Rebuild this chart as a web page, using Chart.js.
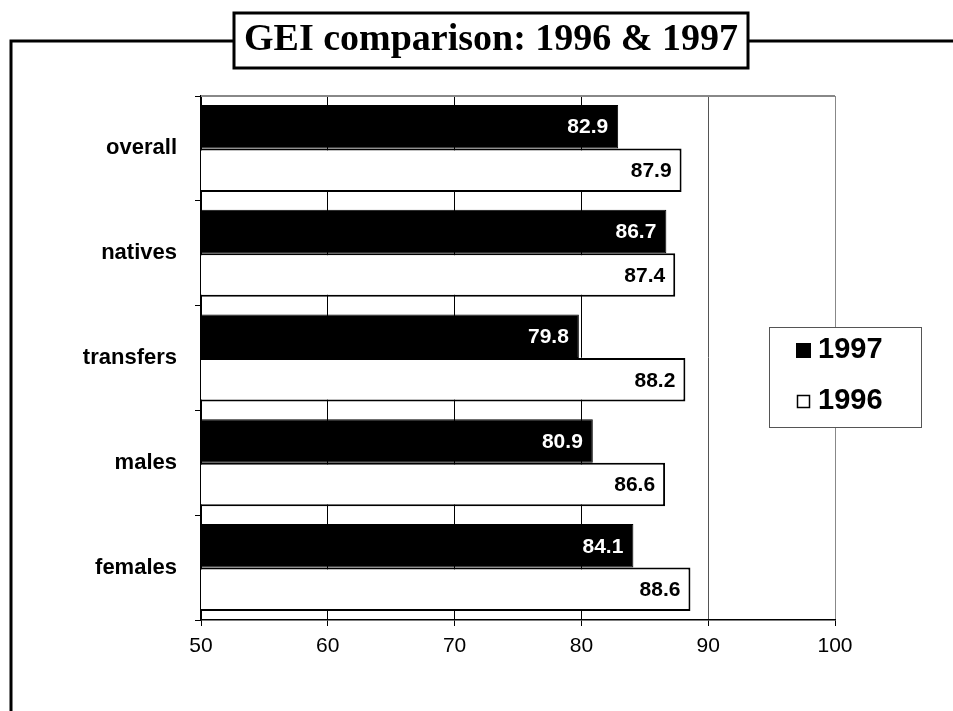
<!DOCTYPE html>
<html>
<head>
<meta charset="utf-8">
<title>GEI comparison</title>
<script src="https://cdn.jsdelivr.net/npm/chart.js@4"></script>
<style>
  html, body { margin: 0; padding: 0; background: #fff; }
  canvas { display: block; }
</style>
</head>
<body>
<canvas id="gei" width="953" height="711"></canvas>
<script>
// categories and values
const groups = ['overall', 'natives', 'transfers', 'males', 'females'];
const values1997 = [82.9, 86.7, 79.8, 80.9, 84.1];
const values1996 = [87.9, 87.4, 88.2, 86.6, 88.6];
const seriesNames = ['1997', '1996'];
const xTicks = [50, 60, 70, 80, 90, 100];
const chartTitle = 'GEI comparison: 1996 & 1997';

// Page frame + boxed title, drawn behind everything
const framePlugin = {
  id: 'frame',
  beforeDraw(chart) {
    const ctx = chart.ctx;
    ctx.save();
    ctx.fillStyle = '#fff';
    ctx.fillRect(0, 0, chart.width, chart.height);
    ctx.strokeStyle = '#000';
    ctx.lineWidth = 3;
    ctx.beginPath();
    ctx.moveTo(11, chart.height);
    ctx.lineTo(11, 41);
    ctx.lineTo(chart.width, 41);
    ctx.stroke();
    // title box
    ctx.fillStyle = '#fff';
    ctx.fillRect(233, 12, 516, 57);
    ctx.strokeRect(234, 13, 514, 55);
    ctx.fillStyle = '#000';
    ctx.font = 'bold 38px "Liberation Serif", serif';
    ctx.textAlign = 'center';
    ctx.textBaseline = 'alphabetic';
    ctx.fillText(chartTitle, 491, 50);
    ctx.restore();
  },
  beforeDatasetsDraw(chart) {
    // grey top border of the plot area
    const a = chart.chartArea, ctx = chart.ctx;
    ctx.save();
    ctx.strokeStyle = '#888';
    ctx.lineWidth = 2;
    ctx.beginPath();
    ctx.moveTo(a.left, a.top);
    ctx.lineTo(a.right, a.top);
    ctx.stroke();
    ctx.restore();
  }
};

// value labels inside the end of each bar
const barLabels = {
  id: 'barLabels',
  afterDatasetsDraw(chart) {
    const ctx = chart.ctx;
    ctx.save();
    ctx.font = 'bold 21px "Liberation Sans", Arial, sans-serif';
    ctx.textAlign = 'right';
    ctx.textBaseline = 'middle';
    chart.data.datasets.forEach((ds, i) => {
      chart.getDatasetMeta(i).data.forEach((bar, j) => {
        ctx.fillStyle = i === 0 ? '#fff' : '#000';
        ctx.fillText(ds.data[j].toFixed(1), bar.x - 10, bar.y + 1);
      });
    });
    ctx.restore();
  }
};

// boxed legend sitting over the right part of the plot
const boxLegend = {
  id: 'boxLegend',
  afterDraw(chart) {
    const ctx = chart.ctx;
    ctx.save();
    ctx.fillStyle = '#fff';
    ctx.fillRect(769, 327, 153, 101);
    ctx.strokeStyle = '#555';
    ctx.lineWidth = 1;
    ctx.strokeRect(769.5, 327.5, 152, 100);
    ctx.font = 'bold 29px "Liberation Sans", Arial, sans-serif';
    ctx.textAlign = 'left';
    ctx.textBaseline = 'middle';
    chart.data.datasets.forEach((ds, i) => {
      const cy = 350 + i * 51;
      if (i === 0) {
        ctx.fillStyle = ds.backgroundColor;
        ctx.fillRect(796, cy - 7, 15, 15);
      } else {
        ctx.fillStyle = ds.backgroundColor;
        ctx.fillRect(797, cy - 6, 13, 13);
        ctx.strokeStyle = '#000';
        ctx.lineWidth = 1.5;
        ctx.strokeRect(797.5, cy - 5.5, 12, 12);
      }
      ctx.fillStyle = '#000';
      ctx.fillText(ds.label, 818, cy);
    });
    ctx.restore();
  }
};

new Chart(document.getElementById('gei'), {
  type: 'bar',
  data: {
    labels: groups,
    datasets: [
      { label: seriesNames[0], data: values1997, backgroundColor: '#000', borderColor: '#000', borderWidth: 1 },
      { label: seriesNames[1], data: values1996, backgroundColor: '#fff', borderColor: '#000', borderWidth: 2 }
    ]
  },
  options: {
    indexAxis: 'y',
    responsive: false,
    animation: false,
    categoryPercentage: 0.83,
    barPercentage: 1.0,
    layout: { padding: { top: 96, left: 0, right: 118, bottom: 51 } },
    plugins: {
      legend: { display: false },
      tooltip: { enabled: false },
      title: { display: false }
    },
    scales: {
      x: {
        min: 50,
        max: 100,
        afterFit(scale) { scale.height = 40; },
        afterBuildTicks(scale) { scale.ticks = xTicks.map(v => ({ value: v })); },
        ticks: {
          color: '#000',
          padding: 8,
          font: { family: '"Liberation Sans", Arial, sans-serif', size: 21 }
        },
        grid: {
          color: c => c.tick && c.tick.value === 100 ? '#888' : c.tick && c.tick.value === 90 ? '#555' : '#000',
          lineWidth: 1,
          tickLength: 6,
          tickColor: '#000'
        },
        border: { color: '#000', width: 1.5 }
      },
      y: {
        afterFit(scale) { scale.width = 201; },
        ticks: {
          color: '#000',
          padding: 18,
          font: { family: '"Liberation Sans", Arial, sans-serif', size: 22, weight: 'bold' }
        },
        grid: {
          drawOnChartArea: false,
          offset: true,
          tickLength: 6,
          color: '#000'
        },
        border: { color: '#000', width: 1.5 }
      }
    }
  },
  plugins: [framePlugin, barLabels, boxLegend]
});
</script>
</body>
</html>
